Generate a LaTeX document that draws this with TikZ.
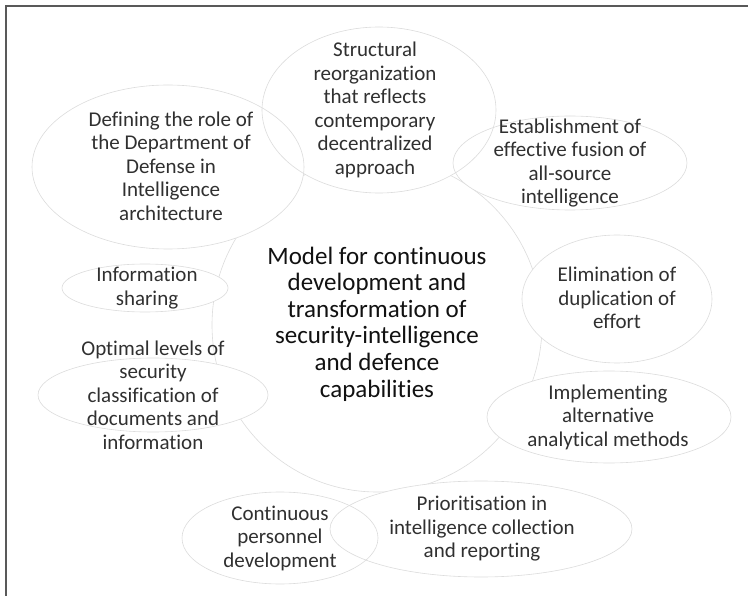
\documentclass[tikz,border=0pt]{standalone}
\usepackage{fontspec}
\setmainfont{Carlito}[Ligatures=NoCommon]
\definecolor{framegrey}{HTML}{595959}
\definecolor{bubblegrey}{HTML}{DCDCDC}
\definecolor{leafgrey}{HTML}{303030}
\definecolor{coreblack}{HTML}{111111}
\begin{document}
\begin{tikzpicture}[x=1pt,y=-1pt,
  frameline/.style={draw=framegrey, line width=2pt},
  bubbleline/.style={draw=bubblegrey, line width=0.6pt},
  leaf/.style={text=leafgrey, align=center, inner sep=0pt,
    font=\fontsize{21}{23.5}\selectfont},
  core/.style={text=coreblack, align=center, inner sep=0pt,
    font=\fontsize{25}{26.6}\selectfont}]
\useasboundingbox (0,0) rectangle (748,596);

% partial frame: left and top edges
\draw[frameline] (6,596) -- (6,6) -- (748,6);

% central cloud body
\draw[bubbleline, fill=white] (377,325) ellipse [x radius=165pt, y radius=167pt];

% surrounding bubbles: white fill first, then all outlines on top
\foreach \cx/\cy/\rx/\ry in {168/167/136pt/82pt, 379/110/117pt/83pt,
    570/163/117pt/47pt, 617/299/95pt/64pt, 609/417/122pt/46pt,
    481/529/151pt/48pt, 280/538/98pt/46pt, 153/395/115pt/37pt,
    145/288/83pt/24pt}
  \fill[white] (\cx,\cy) ellipse [x radius=\rx, y radius=\ry];
\foreach \cx/\cy/\rx/\ry in {168/167/136pt/82pt, 379/110/117pt/83pt,
    570/163/117pt/47pt, 617/299/95pt/64pt, 609/417/122pt/46pt,
    481/529/151pt/48pt, 280/538/98pt/46pt, 153/395/115pt/37pt,
    145/288/83pt/24pt}
  \draw[bubbleline] (\cx,\cy) ellipse [x radius=\rx, y radius=\ry];

% texts
\node[core] (model) at (377,324) {Model for continuous\\development and\\transformation of\\security-intelligence\\and defence\\capabilities};
\node[leaf] (dod) at (171,166) {Defining the role of\\the Department of\\Defense in\\Intelligence\\architecture};
\node[leaf] (reorg) at (375,110) {Structural\\reorganization\\that reflects\\contemporary\\decentralized\\approach};
\node[leaf] (fusion) at (570,163) {Establishment of\\effective fusion of\\all-source\\intelligence};
\node[leaf] (dup) at (617,298) {Elimination of\\duplication of\\effort};
\node[leaf] (altmeth) at (608,417) {Implementing\\alternative\\analytical methods};
\node[leaf] (prio) at (482,529) {Prioritisation in\\intelligence collection\\and reporting};
\node[leaf] (staff) at (280,538) {Continuous\\personnel\\development};
\node[leaf] (classif) at (153,395) {Optimal levels of\\security\\classification of\\documents and\\information};
\node[leaf] (share) at (147,288) {Information\\sharing};
\end{tikzpicture}
\end{document}
